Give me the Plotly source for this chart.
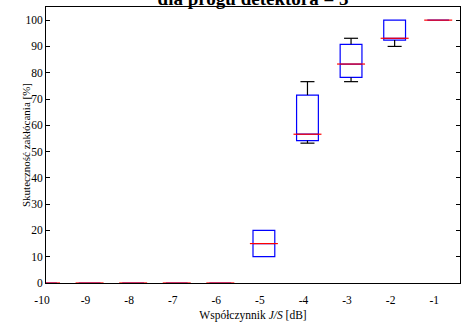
import plotly.graph_objects as go

# Data
js_db = [-10, -9, -8, -7, -6, -5, -4, -3, -2, -1]
tick_labels = ["-10", "-9", "-8", "-7", "-6", "-5", "-4", "-3", "-2", "-1"]
q1 = [0, 0, 0, 0, 0, 10, 54.2, 78.2, 92.4, 100]
median = [0, 0, 0, 0, 0, 15, 56.6, 83.3, 93.1, 100]
q3 = [0, 0, 0, 0, 0, 20, 71.5, 90.8, 100, 100]
lower = [0, 0, 0, 0, 0, 10, 53.2, 76.6, 90.0, 100]
upper = [0, 0, 0, 0, 0, 20, 76.6, 93.1, 100, 100]
y_ticks = list(range(0, 101, 10))

FONT = "Liberation Serif, Times New Roman, serif"

fig = go.Figure()

# Boxes (blue outline)
fig.add_trace(go.Box(
    x=js_db, q1=q1, median=median, q3=q3,
    lowerfence=q1, upperfence=q3,
    width=0.5, line=dict(color="#0000ff", width=1.2),
    fillcolor="rgba(0,0,0,0)", boxpoints=False, showlegend=False,
    hoverinfo="skip",
))

# Whiskers (black vertical segments)
wx, wy = [], []
for x, a, b, lo, hi in zip(js_db, q1, q3, lower, upper):
    if hi > b:
        wx += [x, x, None]
        wy += [b, hi, None]
    if lo < a:
        wx += [x, x, None]
        wy += [lo, a, None]
fig.add_trace(go.Scatter(x=wx, y=wy, mode="lines",
                         line=dict(color="black", width=1.2),
                         showlegend=False, hoverinfo="skip"))

# Whisker caps
cx, cy = [], []
for x, a, b, lo, hi in zip(js_db, q1, q3, lower, upper):
    if hi > b:
        cx.append(x); cy.append(hi)
    if lo < a:
        cx.append(x); cy.append(lo)
fig.add_trace(go.Scatter(x=cx, y=cy, mode="markers",
                         marker=dict(symbol="line-ew", size=10,
                                     line=dict(color="black", width=1.2)),
                         showlegend=False, hoverinfo="skip"))

# Medians (red)
fig.add_trace(go.Scatter(x=js_db, y=median, mode="markers",
                         marker=dict(symbol="line-ew", size=20,
                                     line=dict(color="#ff0000", width=1.2)),
                         showlegend=False, hoverinfo="skip"))

fig.update_layout(
    width=461, height=322,
    margin=dict(l=46, r=1, t=7, b=39),
    paper_bgcolor="white", plot_bgcolor="white",
    font=dict(family=FONT, size=11.5, color="black"),
    title=dict(text="<b>dla progu detektora = 3</b>",
               font=dict(family=FONT, size=19, color="black"),
               x=0.549, xanchor="center", xref="container",
               y=1 - 5 / 322, yanchor="bottom", yref="container"),
    annotations=[dict(
        text="Skuteczność zakłócania [%]", textangle=-90,
        x=(26 - 46) / 414, xref="paper", xanchor="center",
        y=0.5, yref="paper", yanchor="middle", showarrow=False,
        font=dict(family=FONT, size=11, color="black"),
    )],
)

fig.update_xaxes(
    range=[-10, -0.5], automargin=False,
    tickmode="array", tickvals=js_db, ticktext=tick_labels,
    ticks="", showgrid=False, zeroline=False,
    showline=True, linecolor="black", linewidth=1, mirror=True,
    ticklabelshift=-4, ticklabelstandoff=6,
    title=dict(text="Współczynnik <i>J/S</i> [dB]", standoff=11,
               font=dict(family=FONT, size=11.5)),
)
fig.update_yaxes(
    range=[0, 105], automargin=False,
    tickmode="array", tickvals=y_ticks,
    ticks="inside", ticklen=4, tickcolor="black",
    showgrid=False, zeroline=False,
    showline=True, linecolor="black", linewidth=1, mirror="ticks",
)

fig.write_html("out.html")
